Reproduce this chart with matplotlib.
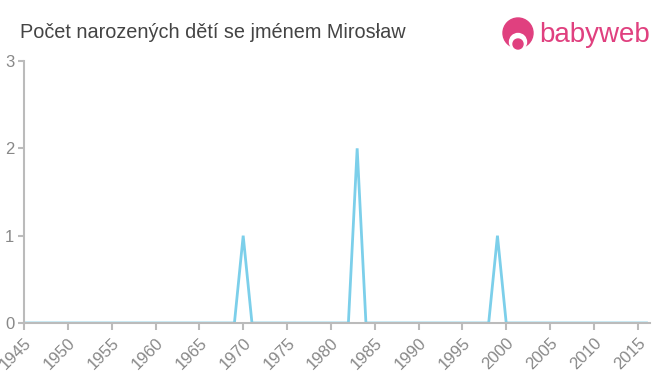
import matplotlib
matplotlib.use("Agg")
import matplotlib.pyplot as plt
from matplotlib.patches import Ellipse

plt.rcParams["font.family"] = ["Liberation Sans", "DejaVu Sans"]

years = list(range(1945, 2017))
peak_years = [1970, 1983, 1999]
peak_counts = [1, 2, 1]
counts = [peak_counts[peak_years.index(y)] if y in peak_years else 0 for y in years]
xticks = list(range(1945, 2020, 5))
yticks = [0, 1, 2, 3]

W, H = 660, 375
fig = plt.figure(figsize=(6.6, 3.75), dpi=100)
ax = fig.add_axes([24/W, (H-323)/H, (650-24)/W, (323-61)/H])
ax.plot(years, counts, color="#7ccfea", lw=2, solid_joinstyle="miter")
ax.set_xlim(1945, 2016.4)
ax.set_ylim(0, 3)
ax.set_xticks(xticks)
ax.set_xticklabels([str(x) for x in xticks], rotation=45, ha="right", rotation_mode="anchor")
ax.set_yticks(yticks)
for s in ["top", "right"]:
    ax.spines[s].set_visible(False)
for s in ["left", "bottom"]:
    ax.spines[s].set_color("#bbbbbb")
    ax.spines[s].set_linewidth(1.5)
ax.tick_params(axis="x", colors="#bbbbbb", labelcolor="#888888", labelsize=12, length=5, width=1.5, pad=4)
ax.tick_params(axis="y", colors="#bbbbbb", labelcolor="#888888", labelsize=12, length=4, width=1.5, pad=3)

fig.text(20/W, 1 - 32/H, "Počet narozených dětí se jménem Mirosław", fontsize=14.3, color="#444444", va="center", ha="left")

# logo
logo_color = "#e0407f"
def circ(cx, cy, r, color):
    fig.patches.append(Ellipse((cx/W, 1 - cy/H), 2*r/W, 2*r/H, transform=fig.transFigure, color=color))
circ(518, 33, 15, logo_color)
circ(518, 42, 8.5, "white")
circ(518, 44, 5, logo_color)
fig.text(539/W, 1 - 35/H, "babyweb", fontsize=20, color=logo_color, va="center", ha="left")

fig.savefig("out.png", dpi=100)
